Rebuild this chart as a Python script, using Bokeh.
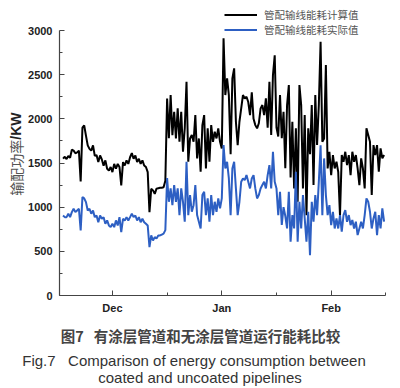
import math
import numpy as np
from bokeh.plotting import figure
from bokeh.layouts import column, row
from bokeh.models import Range1d, FixedTicker, Legend, LegendItem, Label
from bokeh.embed import file_html
from bokeh.resources import INLINE

# ---------------- data (days since 16 Nov, two samples per day) ----------------
first_day = 1.0
samples_per_day = 2

# 管配输线能耗计算值 (calculated, kW)
calc = [
    1550, 1570, 1545, 1580, 1560, 1650, 1640, 1610, 1620, 1640,   # d1-5
    1290, 1900, 1925, 1810, 1700, 1660, 1640, 1700, 1580, 1590,   # d6-10
    1510, 1585, 1540, 1470, 1530, 1435, 1416, 1455, 1397, 1490,   # d11-15
    1435, 1490, 1455, 1246, 1510, 1472, 1530, 1490, 1565, 1612,   # d16-20
    1548, 1585, 1510, 1548, 1490, 1530, 1472, 1455, 1397, 944,    # d21-25
    1208, 1190, 1150, 1210, 1215, 1220, 1220, 1225, 1300, 2230,   # d26-30
    1780, 2270, 1816, 2080, 1778, 2118, 1740, 2080, 1627, 1892,   # d31-35
    2420, 1514, 1778, 1816, 1740, 2042, 1552, 1778, 1401, 1929,   # d36-40
    2042, 1438, 1892, 1514, 1929, 1740, 1854, 1778, 1892, 1740,   # d41-45
    1665, 2911, 2269, 2458, 2269, 1600, 2458, 2571, 1967, 1703,   # d46-50
    1967, 2118, 2269, 2231, 2250, 2190, 2042, 2300, 2000, 1929,   # d51-55
    1892, 1950, 2118, 2156, 2042, 2231, 1900, 2420, 1816, 2496,   # d56-60
    2720, 1900, 1800, 2269, 1780, 2080, 1440, 2156, 2382, 1337,   # d61-65
    1967, 1212, 1892, 1061, 2382, 2156, 1212, 2042, 910, 1892,    # d66-70
    1600, 2156, 1250, 2269, 1703, 2156, 2873, 1740, 1778, 2609,   # d71-75
    1438, 1627, 1363, 1590, 1438, 1514, 1400, 910, 1590, 1514,    # d76-80
    1627, 1476, 1590, 1363, 1627, 1514, 1590, 1438, 1250, 1552,   # d81-85
    1438, 1212, 1892, 1816, 1740, 1137, 1703, 1590, 1703, 1401,   # d86-90
    1665, 1552, 1590,                                             # d91-92
]

# 管配输线能耗实际值 (actual, kW)
actual = [
    906, 887, 887, 925, 887, 944, 982, 944, 963, 982,             # d1-5
    736, 1114, 1100, 1057, 963, 982, 925, 963, 887, 906,          # d6-10
    830, 906, 868, 887, 812, 850, 793, 774, 812, 774,             # d11-15
    850, 793, 887, 718, 868, 850, 887, 850, 887, 925,             # d16-20
    887, 906, 850, 887, 830, 868, 830, 812, 793, 547,             # d21-25
    680, 623, 661, 645, 680, 680, 690, 700, 740, 1330,            # d26-30
    1061, 1212, 1023, 1250, 1061, 1212, 910, 1212, 1061, 835,     # d31-35
    1514, 910, 1137, 948, 1023, 1250, 910, 835, 759, 1137,        # d36-40
    1174, 910, 1099, 835, 1137, 910, 1061, 948, 1099, 986,        # d41-45
    1099, 1703, 1438, 1514, 1325, 910, 1438, 1514, 1212, 910,     # d46-50
    1061, 1288, 1325, 1306, 1363, 1288, 1212, 1325, 1363, 1212,   # d51-55
    1099, 1137, 1212, 1250, 1288, 1212, 1363, 1476, 1212, 1627,   # d56-60
    1288, 1212, 910, 1174, 800, 1000, 900, 759, 1174, 608,        # d61-65
    910, 759, 1400, 608, 1061, 759, 1137, 873, 608, 948,          # d66-70
    457, 1061, 835, 1137, 910, 1288, 1700, 910, 1552, 1137,       # d71-75
    910, 1023, 797, 948, 759, 873, 759, 910, 722, 910,            # d76-80
    967, 835, 910, 797, 854, 759, 835, 684, 759, 835,             # d81-85
    759, 910, 1099, 1061, 948, 759, 873, 948, 684, 910,           # d86-90
    759, 986, 835,                                                # d91-92
]

series_names = ["管配输线能耗计算值", "管配输线能耗实际值"]

month_ticks = [15, 46, 77]          # 1 Dec, 1 Jan, 1 Feb
month_labels = ["Dec", "Jan", "Feb"]
mid_month_ticks = [0, 30.5, 61.5, 92.4]
y_major = [0, 500, 1000, 1500, 2000, 2500, 3000]
y_minor = [250, 750, 1250, 1750, 2250, 2750]
y_axis_max = 3000

y_title_cn = "输配功率"
y_title_unit = "/KW"
caption_cn = "图7\u00a0\u00a0\u00a0有涂层管道和无涂层管道运行能耗比较"
caption_en1 = "Fig.7\u00a0\u00a0\u00a0Comparison of energy consumption between"
caption_en2 = "coated and uncoated pipelines"

t_calc = first_day + np.arange(len(calc)) / samples_per_day
t_act = first_day + np.arange(len(actual)) / samples_per_day

# ---------------- layout geometry (px) ----------------
W, H = 400, 388
LAB_W = 25            # strip holding the rotated y title
FRAME_L, FRAME_R = 57, 385
FRAME_TOP_VALUE_PX = 30   # where 3000 sits
FRAME_BOT = 295
TOP_H = 318           # height of the chart row
CAP_H = H - TOP_H

frame_h = FRAME_BOT                      # frame spans from 0 to FRAME_BOT
y_top = y_axis_max * frame_h / (FRAME_BOT - FRAME_TOP_VALUE_PX)

def blank(width, height):
    f = figure(width=width, height=height, x_range=Range1d(0, width),
               y_range=Range1d(0, height), x_axis_type=None, y_axis_type=None,
               output_backend="svg", toolbar_location=None,
               min_border=0, min_border_left=0, min_border_right=0,
               min_border_top=0, min_border_bottom=0)
    f.xgrid.visible = False
    f.ygrid.visible = False
    f.outline_line_color = None
    f.background_fill_color = "white"
    f.border_fill_color = "white"
    return f

# ---------------- main chart ----------------
p = figure(width=W - LAB_W, height=TOP_H,
           x_range=Range1d(0, 92.4), y_range=Range1d(0, y_top),
           output_backend="svg", toolbar_location=None,
           min_border_left=FRAME_L - LAB_W, min_border_right=W - FRAME_R,
           min_border_top=0, min_border_bottom=TOP_H - FRAME_BOT)
p.xgrid.visible = False
p.ygrid.visible = False
p.outline_line_color = None
p.background_fill_color = "white"
p.border_fill_color = "white"

r_calc = p.line(t_calc, calc, line_color="#000000", line_width=2)
r_act = p.line(t_act, actual, line_color="#2d5fc3", line_width=2)

for ax in (p.xaxis[0], p.yaxis[0]):
    ax.axis_line_color = "#444444"
    ax.axis_line_width = 1.2
    ax.major_tick_line_color = "#444444"
    ax.minor_tick_line_color = "#444444"
    ax.major_tick_in = 5
    ax.major_tick_out = 0
    ax.minor_tick_in = 3
    ax.minor_tick_out = 0
    ax.major_label_text_font = "Liberation Sans"
    ax.major_label_text_font_style = "bold"
    ax.major_label_text_font_size = "11px"
    ax.major_label_text_color = "#222222"

p.yaxis.ticker = FixedTicker(ticks=y_major, minor_ticks=y_minor)
p.yaxis.bounds = (0, y_axis_max)
p.yaxis.major_label_standoff = 7
p.xaxis.ticker = FixedTicker(ticks=month_ticks, minor_ticks=mid_month_ticks)
p.xaxis.major_label_overrides = {k: v for k, v in zip(month_ticks, month_labels)}
p.xaxis.major_label_standoff = 6

legend = Legend(items=[LegendItem(label=series_names[0], renderers=[r_calc]),
                       LegendItem(label=series_names[1], renderers=[r_act])],
                location=(222 - FRAME_L, FRAME_BOT - 36.5), orientation="vertical",
                border_line_color=None, background_fill_alpha=0,
                padding=0, margin=0, spacing=0,
                glyph_height=13, glyph_width=33, label_height=13,
                label_standoff=7,
                label_text_font="Liberation Sans, Noto Sans CJK SC",
                label_text_font_size="10.5px", label_text_color="#555555")
p.add_layout(legend)

# ---------------- rotated y title strip ----------------
ylab = blank(LAB_W, TOP_H)
ylab.add_layout(Label(x=15, y=TOP_H - 150, text=y_title_unit, angle=math.pi / 2,
                      text_align="left", text_baseline="middle",
                      text_font="Liberation Sans", text_font_style="bold",
                      text_font_size="14px", text_color="#222222"))
ylab.add_layout(Label(x=15, y=TOP_H - 150, text=y_title_cn, angle=math.pi / 2,
                      text_align="right", text_baseline="middle",
                      text_font="Noto Sans CJK SC",
                      text_font_size="14px", text_color="#555555"))

# ---------------- caption strip ----------------
cap = blank(W, CAP_H)
cap.add_layout(Label(x=200, y=CAP_H - 17, text=caption_cn,
                     text_align="center", text_baseline="middle",
                     text_font="Noto Sans CJK SC", text_font_size="14.5px",
                     text_font_style="bold", text_color="#444444"))
cap.add_layout(Label(x=193.5, y=CAP_H - 42, text=caption_en1,
                     text_align="center", text_baseline="alphabetic",
                     text_font="Liberation Sans", text_font_size="15px",
                     text_color="#333333"))
cap.add_layout(Label(x=199.5, y=CAP_H - 59, text=caption_en2,
                     text_align="center", text_baseline="alphabetic",
                     text_font="Liberation Sans", text_font_size="15px",
                     text_color="#333333"))

layout = column(row(ylab, p, spacing=0), cap, spacing=0)

open("out.html", "w", encoding="utf-8").write(file_html(layout, INLINE))
